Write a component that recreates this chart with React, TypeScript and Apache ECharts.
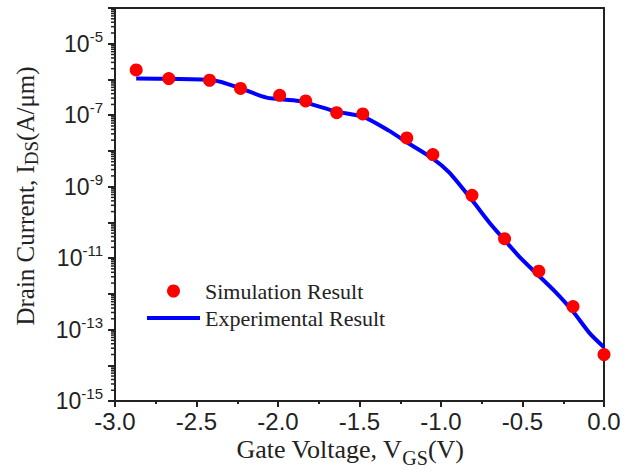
import React, { useEffect, useRef } from 'react';
import * as echarts from 'echarts';

// Simulated drain current (A/µm) against gate voltage (V)
const simVgs = [-2.87, -2.67, -2.42, -2.23, -1.99, -1.83, -1.64, -1.48, -1.21, -1.05, -0.81, -0.61, -0.4, -0.19, 0.0];
const simIds = [1.85e-6, 1.06e-6, 9.5e-7, 5.6e-7, 3.6e-7, 2.5e-7, 1.17e-7, 1.08e-7, 2.3e-8, 7.9e-9, 5.7e-10, 3.5e-11, 4.3e-12, 4.4e-13, 2.0e-14];

// Measured drain current (A/µm) against gate voltage (V)
const expVgs = [-2.87, -2.67, -2.39, -2.24, -2.07, -1.87, -1.64, -1.48, -1.32, -1.21, -1.05, -0.95, -0.81, -0.7, -0.61, -0.52, -0.4, -0.3, -0.19, -0.09, 0.0];
const expIds = [1.06e-6, 1.04e-6, 9.4e-7, 5.9e-7, 3.1e-7, 2.5e-7, 1.26e-7, 9.1e-8, 3.7e-8, 1.75e-8, 6.1e-9, 2.5e-9, 4.2e-10, 9.5e-11, 3.2e-11, 1.1e-11, 3.2e-12, 1.15e-12, 3.2e-13, 8.1e-14, 3.2e-14];

// Axis ranges
const xMin = -3.0;
const xMax = 0.0;
const xStep = 0.5;
const yMin = 1e-15;
const yMax = 1e-4;
const firstDecade = -15;
const lastDecade = -5;
const minorMultipliers = [2, 3, 4, 5, 6, 7, 8, 9];

const SANS = "'Liberation Sans', Arial, sans-serif";
const SERIF = "'Liberation Serif', 'Times New Roman', serif";
const INK = '#222';
const AXIS = '#222';

// Log-spaced minor tick positions between decades
const minorTickValues: number[] = [];
for (let d = firstDecade; d <= lastDecade; d++) {
  for (const k of minorMultipliers) minorTickValues.push(k * Math.pow(10, d));
}

const axisLineStyle = { color: AXIS, width: 2 };

export default function App() {
  const ref = useRef<HTMLDivElement>(null);

  useEffect(() => {
    document.body.style.margin = '0';
    if (!ref.current) return;
    const chart = echarts.init(ref.current, null, { renderer: 'svg' });

    chart.setOption({
      animation: false,
      backgroundColor: '#fff',
      grid: { left: 115, right: 28, top: 8, bottom: 71 },
      legend: {
        orient: 'vertical',
        left: 145,
        top: 280,
        padding: 0,
        itemWidth: 53,
        itemHeight: 13,
        itemGap: 5,
        data: [
          'Simulation Result',
          // line-only key: the series symbol is hidden in the legend swatch
          {
            name: 'Experimental Result',
            itemStyle: { opacity: 0, borderWidth: 0 },
            lineStyle: { width: 4, color: '#0000ff' },
          },
        ],
        textStyle: { fontFamily: SERIF, fontSize: 22, color: INK, lineHeight: 22 },
      },
      xAxis: [
        {
          type: 'value',
          position: 'bottom',
          min: xMin,
          max: xMax,
          interval: xStep,
          axisLine: { show: true, onZero: false, lineStyle: axisLineStyle },
          axisTick: { show: true, inside: false, length: 6, lineStyle: axisLineStyle },
          minorTick: { show: true, splitNumber: 2, length: 3, lineStyle: axisLineStyle },
          splitLine: { show: false },
          axisLabel: {
            margin: 8,
            fontFamily: SANS,
            fontSize: 24,
            color: INK,
            formatter: (v: number) => v.toFixed(1),
          },
        },
        {
          type: 'value',
          position: 'top',
          min: xMin,
          max: xMax,
          axisLine: { show: true, onZero: false, lineStyle: axisLineStyle },
          axisTick: { show: false },
          axisLabel: { show: false },
          splitLine: { show: false },
        },
      ],
      yAxis: [
        {
          type: 'log',
          position: 'left',
          logBase: 10,
          min: yMin,
          max: yMax,
          interval: 1,
          splitNumber: 11,
          axisLine: { show: true, onZero: false, lineStyle: axisLineStyle },
          axisTick: { show: true, inside: false, length: 7, lineStyle: axisLineStyle },
          minorTick: { show: false },
          splitLine: { show: false },
          axisLabel: {
            margin: 12,
            formatter: (v: number) => {
              const e = Math.round(Math.log10(v));
              return e % 2 !== 0 ? `{b|10}{s|${e}}` : '';
            },
            rich: {
              b: { fontFamily: SANS, fontSize: 23, lineHeight: 30, color: INK },
              s: { fontFamily: SANS, fontSize: 15, lineHeight: 15, verticalAlign: 'top', color: INK },
            },
          },
        },
        {
          type: 'log',
          position: 'right',
          logBase: 10,
          min: yMin,
          max: yMax,
          axisLine: { show: true, onZero: false, lineStyle: axisLineStyle },
          axisTick: { show: false },
          axisLabel: { show: false },
          splitLine: { show: false },
        },
      ],
      graphic: [
        {
          type: 'text',
          x: 25,
          y: 196,
          rotation: Math.PI / 2,
          style: {
            text: '{b|Drain Current, I}{s|DS}{b|(A/μm)}',
            align: 'center',
            verticalAlign: 'middle',
            rich: {
              b: { fontFamily: SERIF, fontSize: 25, lineHeight: 32, fill: INK },
              s: { fontFamily: SERIF, fontSize: 19, lineHeight: 19, verticalAlign: 'bottom', fill: INK },
            },
          },
        },
        {
          type: 'text',
          x: 350,
          y: 449,
          style: {
            text: '{b|Gate Voltage, V}{s|GS}{b|(V)}',
            align: 'center',
            verticalAlign: 'middle',
            rich: {
              b: { fontFamily: SERIF, fontSize: 26, lineHeight: 38, fill: INK },
              s: { fontFamily: SERIF, fontSize: 20, lineHeight: 20, verticalAlign: 'bottom', fill: INK },
            },
          },
        },
      ],
      series: [
        {
          name: 'Experimental Result',
          type: 'line',
          data: expVgs.map((x, i) => [x, expIds[i]]),
          showSymbol: false,
          symbol: 'none',
          smooth: 0.25,
          lineStyle: { color: '#0000ff', width: 4 },
          itemStyle: { color: '#0000ff' },
          z: 2,
        },
        {
          name: 'Simulation Result',
          type: 'scatter',
          data: simVgs.map((x, i) => [x, simIds[i]]),
          symbol: 'circle',
          symbolSize: 13,
          itemStyle: { color: '#ff0000', opacity: 1 },
          z: 3,
        },
        {
          name: 'minorTicks',
          type: 'custom',
          silent: true,
          clip: false,
          data: minorTickValues.map((v) => [xMin, v]),
          renderItem: (_p: any, api: any) => {
            const pt = api.coord([api.value(0), api.value(1)]);
            return {
              type: 'line',
              shape: { x1: pt[0] - 4, y1: pt[1], x2: pt[0], y2: pt[1] },
              style: { stroke: AXIS, lineWidth: 1.5 },
            };
          },
          z: 1,
        },
      ],
    });

    return () => chart.dispose();
  }, []);

  return <div ref={ref} style={{ width: 632, height: 472 }} />;
}
